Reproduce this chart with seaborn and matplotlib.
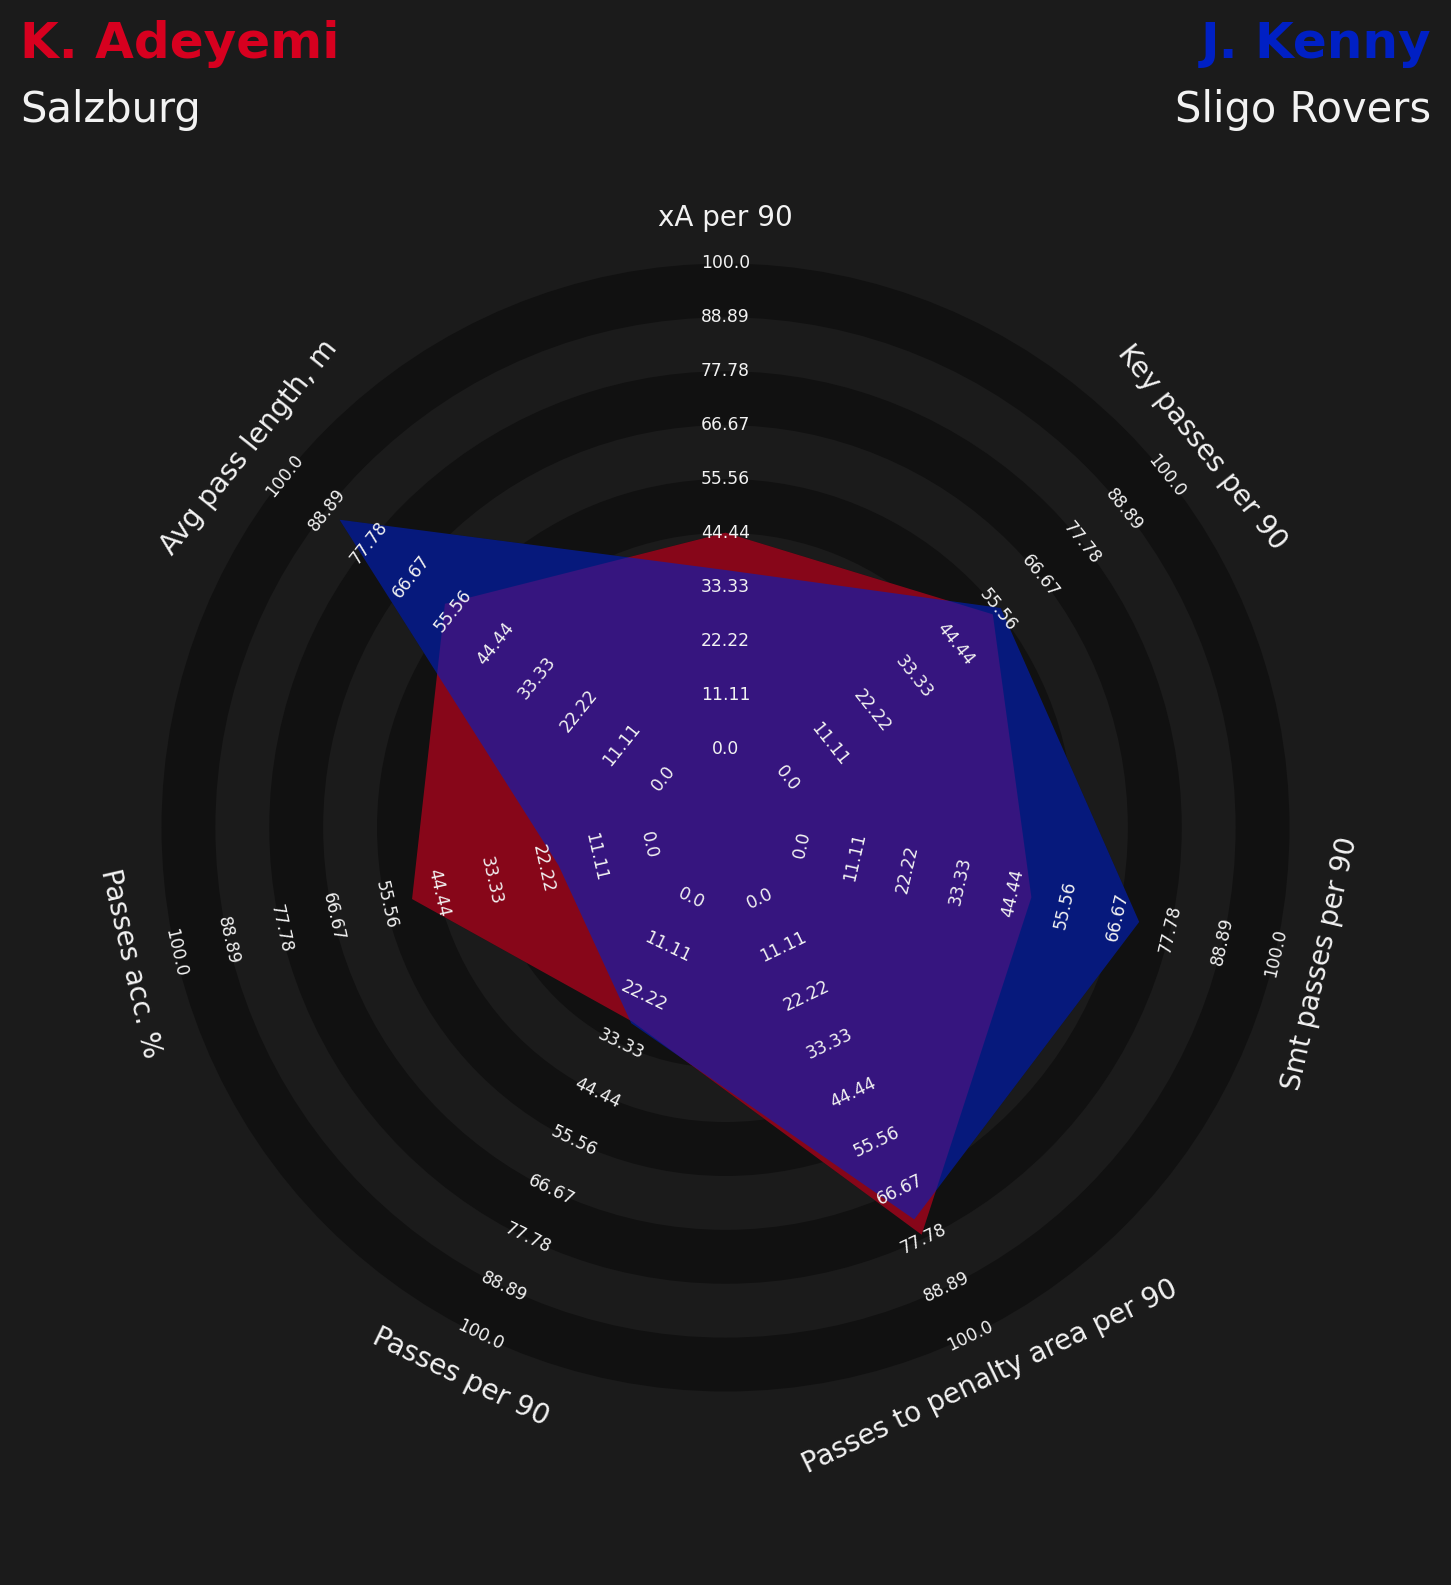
import numpy as np
import matplotlib
matplotlib.use("Agg")
import matplotlib.pyplot as plt
from matplotlib.patches import Circle
import seaborn as sns

# ---------------- data ----------------
params = ["xA per 90", "Key passes per 90", "Smt passes per 90",
          "Passes to penalty area per 90", "Passes per 90",
          "Passes acc. %", "Avg pass length, m"]
adeyemi_values = [44.5, 54.2, 48.4, 76.9, 28.1, 50.0, 57.7]
kenny_values = [36.8, 56.3, 71.2, 73.4, 28.5, 19.0, 85.5]
tick_values = [0.0, 11.11, 22.22, 33.33, 44.44, 55.56, 66.67, 77.78, 88.89, 100.0]
players = ["K. Adeyemi", "J. Kenny"]
teams = ["Salzburg", "Sligo Rovers"]

# ---------------- style ----------------
BG = "#1b1b1b"
RING = "#111111"
BASE = "#111111"
RED = "#d7001f"
BLUE = "#0020c4"
TXT = "#f2f2f2"

sns.set_theme(style="dark", rc={"figure.facecolor": BG, "axes.facecolor": BG})
plt.rcParams["font.family"] = ["DejaVu Sans"]

W, H = 1451, 1585
fig = plt.figure(figsize=(W / 100, H / 100), dpi=100)
ax = fig.add_axes([0, 0, 1, 1])
ax.set_xlim(0, W)
ax.set_ylim(H, 0)
ax.set_facecolor(BG)
ax.axis("off")

CX, CY = 725.5, 827.5
R0, R100, RLAB = 79.0, 564.0, 610.0
n = len(params)
theta = np.arange(n) * 2 * np.pi / n  # clockwise from top


def radius(v):
    return R0 + np.asarray(v) / 100.0 * (R100 - R0)


def xy(r, t):
    return CX + r * np.sin(t), CY - r * np.cos(t)


def rot(t):
    d = -np.degrees(t)
    while d <= -90:
        d += 180
    while d > 90:
        d -= 180
    return d


# rings: alternating bands
radii = radius(tick_values)
for k in range(len(radii) - 1, -1, -1):
    col = RING if (k % 2 == 1) else BG
    ax.add_patch(Circle((CX, CY), radii[k], facecolor=col, edgecolor="none", zorder=1))

# opaque base under polygons (rings do not show through)
for vals in (adeyemi_values, kenny_values):
    px, py = xy(radius(vals), theta)
    ax.fill(px, py, color=BASE, lw=0, zorder=1.5)

# polygons
for vals, col, z in [(adeyemi_values, RED, 2), (kenny_values, BLUE, 3)]:
    px, py = xy(radius(vals), theta)
    ax.fill(px, py, color=col, alpha=0.6, lw=0, zorder=z)

# range labels and parameter labels
for i, t in enumerate(theta):
    for tv in tick_values:
        x, y = xy(radius(tv), t)
        ax.text(x, y, f"{round(tv, 2)}", ha="center", va="center", rotation=rot(t),
                rotation_mode="anchor", fontsize=12.3, color=TXT, zorder=5)
    lx, ly = xy(RLAB, t)
    ax.text(lx, ly, params[i], ha="center", va="center", rotation=rot(t),
            rotation_mode="anchor", fontsize=20, color=TXT, zorder=5)

# titles
fig.text(20 / W, 1 - 58 / H, players[0], ha="left", va="baseline", fontsize=36,
         fontweight="bold", color=RED)
fig.text(20 / W, 1 - 122 / H, teams[0], ha="left", va="baseline", fontsize=30, color=TXT)
fig.text(1431 / W, 1 - 58 / H, players[1], ha="right", va="baseline", fontsize=36,
         fontweight="bold", color=BLUE)
fig.text(1431 / W, 1 - 122 / H, teams[1], ha="right", va="baseline", fontsize=30, color=TXT)

fig.savefig("out.png", dpi=100, facecolor=BG)
